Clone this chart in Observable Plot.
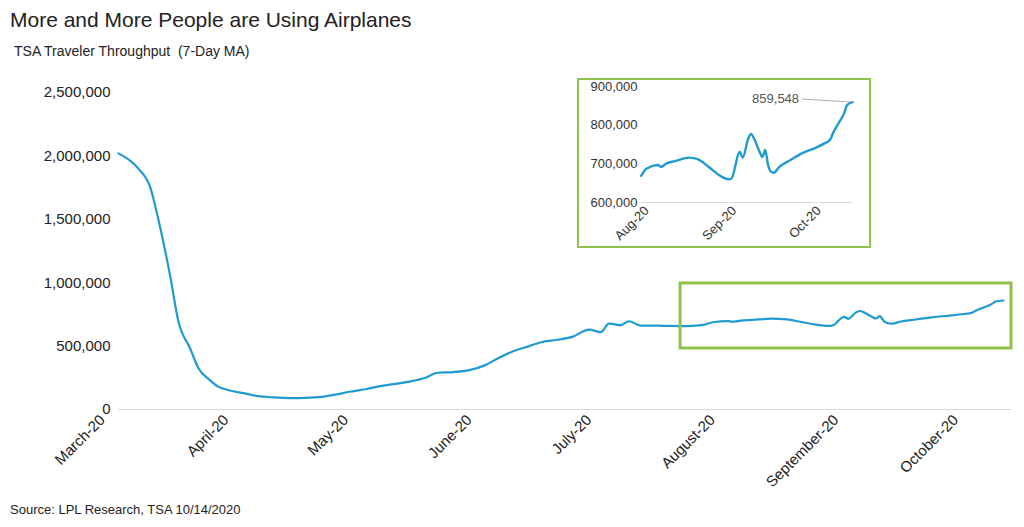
<!DOCTYPE html>
<html><head><meta charset="utf-8">
<script src="https://cdn.jsdelivr.net/npm/d3@7"></script>
<script src="https://cdn.jsdelivr.net/npm/@observablehq/plot@0.6"></script>
<style>
body{margin:0;background:#fff;font-family:"Liberation Sans",Arial,sans-serif;width:1024px;height:527px;position:relative;overflow:hidden}
#title{position:absolute;left:10px;top:8px;font-size:21px;color:#222}
#sub{position:absolute;left:14px;top:43px;font-size:14px;color:#222}
#main{position:absolute;left:0;top:70px}
#inset{position:absolute;left:577px;top:78px;border:2px solid #8fc24a;background:#fff}
#src{position:absolute;left:10px;top:502px;font-size:13px;color:#222}
</style></head><body>
<div id="title">More and More People are Using Airplanes</div>
<div id="sub">TSA Traveler Throughput&nbsp; (7-Day MA)</div>
<div id="main"></div>
<div id="inset"></div>
<div id="src">Source: LPL Research, TSA 10/14/2020</div>
<script>
const dates = ["2020-03-05","2020-03-08","2020-03-10","2020-03-13","2020-03-15","2020-03-18","2020-03-20","2020-03-23","2020-03-25","2020-03-28","2020-03-30","2020-04-02","2020-04-06","2020-04-09","2020-04-13","2020-04-17","2020-04-21","2020-04-25","2020-04-28","2020-05-02","2020-05-06","2020-05-09","2020-05-13","2020-05-17","2020-05-21","2020-05-24","2020-05-28","2020-06-01","2020-06-05","2020-06-08","2020-06-12","2020-06-16","2020-06-19","2020-06-23","2020-06-27","2020-07-01","2020-07-04","2020-07-06","2020-07-09","2020-07-11","2020-07-14","2020-07-16","2020-07-20","2020-07-24","2020-07-27","2020-07-30",
"2020-08-01","2020-08-05","2020-08-06","2020-08-08","2020-08-11","2020-08-16","2020-08-19","2020-08-23","2020-08-27","2020-08-30","2020-08-31","2020-09-03","2020-09-04","2020-09-06","2020-09-07","2020-09-08","2020-09-10","2020-09-11","2020-09-12","2020-09-13","2020-09-14","2020-09-15","2020-09-17","2020-09-21","2020-09-25","2020-09-30","2020-10-03","2020-10-05","2020-10-06","2020-10-08","2020-10-10","2020-10-11","2020-10-13"];
const travelers = [2020000,1960000,1900000,1750000,1500000,1050000,700000,480000,330000,230000,180000,150000,125000,105000,95000,90000,92000,100000,115000,140000,160000,180000,200000,220000,250000,290000,295000,310000,350000,400000,460000,500000,530000,550000,575000,630000,610000,678000,665000,696000,662000,662000,660000,658000,660000,669000,
688000,697000,692000,701000,707000,716000,712000,692000,669000,660000,662000,731000,716000,766000,777000,766000,731000,718000,736000,697000,680000,677000,692000,710000,727000,742000,753000,762000,779000,805000,831000,852000,859548];
const mainTicks = ["2020-03-01","2020-04-01","2020-05-01","2020-06-01","2020-07-01","2020-08-01","2020-09-01","2020-10-01"];
const mainTickLabels = ["March-20","April-20","May-20","June-20","July-20","August-20","September-20","October-20"];
const mainYTicks = [0,500000,1000000,1500000,2000000,2500000];
const insetTicks = ["2020-08-01","2020-09-01","2020-10-01"];
const insetTickLabels = ["Aug-20","Sep-20","Oct-20"];
const insetYTicks = [600000,700000,800000,900000];
const boxRange = {from:"2020-07-24", to:"2020-10-15", lo:481000, hi:994000};
const insetStart = "2020-07-30";
const lastLabel = "859,548";

const P = d3.timeParse("%Y-%m-%d");
const data = dates.map((d,i)=>({date:P(d), v:travelers[i]}));
const fmt = d3.format(",");
const lbl = (ticks, labels) => d => labels[ticks.findIndex(t=>+P(t)===+d)];
const blue = "#1f9bd2";

const main = Plot.plot({
  width:1024, height:430, marginLeft:102, marginRight:9, marginTop:22, marginBottom:91,
  style:{fontFamily:"Liberation Sans, Arial, sans-serif", fontSize:"15px", color:"#222"},
  x:{type:"time", domain:[P("2020-03-01"),P("2020-10-16")]},
  y:{domain:[0,2500000]},
  marks:[
    Plot.ruleY([0],{stroke:"#d9d9d9", x1:P("2020-03-05"), x2:P("2020-10-15")}),
    Plot.axisY({ticks:mainYTicks, tickFormat:fmt, tickSize:0, tickPadding:-8, fontSize:15, label:null}),
    Plot.axisX({ticks:mainTicks.map(P), tickFormat:lbl(mainTicks,mainTickLabels), tickRotate:-45, tickSize:0, tickPadding:8, fontSize:15, label:null}),
    Plot.line(data,{x:"date", y:"v", stroke:blue, strokeWidth:2.2, curve:"monotone-x"}),
    Plot.rect([boxRange],{x1:d=>P(d.from), x2:d=>P(d.to), y1:"lo", y2:"hi", fill:"none", stroke:"#8fc24a", strokeWidth:3})
  ]
});
document.getElementById("main").append(main);

const idata = data.filter(d=>d.date>=P(insetStart));
const last = idata[idata.length-1];
const inset = Plot.plot({
  width:290, height:166, marginLeft:56, marginRight:14, marginTop:6, marginBottom:44,
  style:{fontFamily:"Liberation Sans, Arial, sans-serif", fontSize:"13px", color:"#333"},
  x:{type:"time", domain:[P("2020-07-28"),P("2020-10-14")]},
  y:{domain:[600000,900000]},
  marks:[
    Plot.ruleY([600000],{stroke:"#d9d9d9", x1:P(insetStart), x2:P("2020-10-13")}),
    Plot.axisY({ticks:insetYTicks, tickFormat:fmt, tickSize:0, tickPadding:-2, fontSize:13, label:null}),
    Plot.axisX({ticks:insetTicks.map(P), tickFormat:lbl(insetTicks,insetTickLabels), tickRotate:-45, tickSize:0, tickPadding:6, fontSize:13, label:null}),
    Plot.line(idata,{x:"date", y:"v", stroke:blue, strokeWidth:2.4, curve:"monotone-x"}),
    Plot.link([last],{x1:d=>d.date, y1:"v", x2:d=>d3.timeDay.offset(d.date,-18), y2:d=>d.v+8000, stroke:"#999", strokeWidth:0.8}),
    Plot.text([last],{x:d=>d3.timeDay.offset(d.date,-19), y:d=>d.v+8000, text:()=>lastLabel, textAnchor:"end", fill:"#555", fontSize:13})
  ]
});
document.getElementById("inset").append(inset);
</script></body></html>
